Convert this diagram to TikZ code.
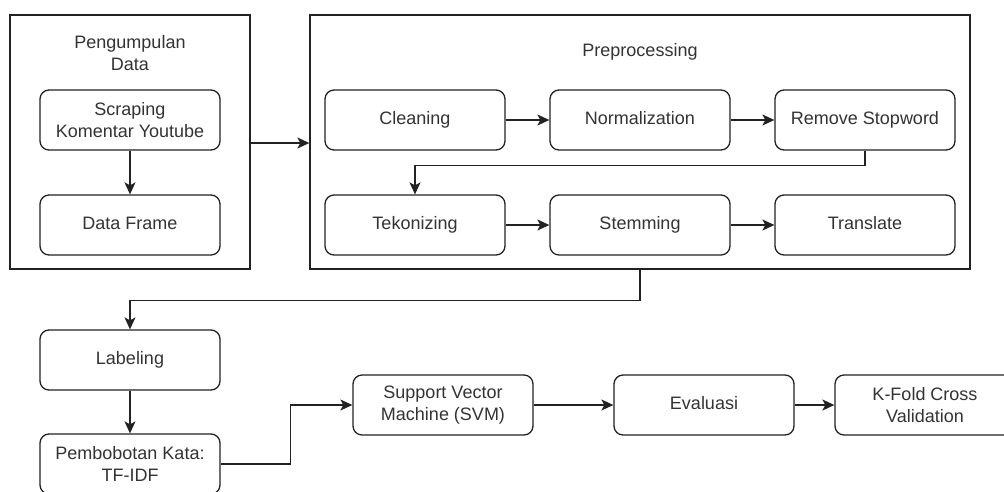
\documentclass[tikz,border=0pt]{standalone}
\usepackage{fontspec}
\setmainfont{Liberation Sans}
\usetikzlibrary{arrows.meta}
\definecolor{linec}{RGB}{34,34,34}
\definecolor{textc}{RGB}{51,51,51}
\begin{document}
\begin{tikzpicture}[x=1pt,y=-1pt,
  box/.style={draw=linec, line width=1.3pt, rounded corners=9pt, minimum width=180pt, minimum height=60pt, inner sep=0pt, align=center, text=textc, font=\fontsize{18}{22}\selectfont},
  single/.style={text height=13pt, text depth=4pt},
  frame/.style={draw=linec, line width=1.3pt, inner sep=0pt},
  title/.style={align=center, text=textc, font=\fontsize{18}{22}\selectfont},
  arr/.style={draw=linec, line width=1.3pt, -{Stealth[length=12pt,width=11pt,inset=3pt]}}
]
\useasboundingbox (0,0) rectangle (1004,491);
\clip (0,0) rectangle (1004,491);
\fill[white] (0,0) rectangle (1004,491);

% containers
\node[frame, minimum width=240pt, minimum height=254pt] (box1) at (130,142) {};
\node[title] (t1) at (130,53) {Pengumpulan\\Data};
\node[frame, minimum width=660pt, minimum height=254pt] (box2) at (640,142) {};
\node[title, single] (t2) at (640,52) {Preprocessing};

% data collection
\node[box] (scrap) at (130,120) {Scraping\\Komentar Youtube};
\node[box, single] (df) at (130,225) {Data Frame};

% preprocessing
\node[box, single] (clean) at (415,120) {Cleaning};
\node[box, single] (norm) at (640,120) {Normalization};
\node[box, single] (stop) at (865,120) {Remove Stopword};
\node[box, single] (tek) at (415,225) {Tekonizing};
\node[box, single] (stem) at (640,225) {Stemming};
\node[box, single] (trans) at (865,225) {Translate};

% lower part
\node[box, single] (label) at (130,360) {Labeling};
\node[box] (pemb) at (130,464) {Pembobotan Kata:\\TF-IDF};
\node[box] (svm) at (443,405) {Support Vector\\Machine (SVM)};
\node[box, single] (eval) at (704,405) {Evaluasi};
\node[box] (kfold) at (925,405) {K-Fold Cross\\Validation};

% connectors
\draw[arr] (scrap) -- (df);
\draw[arr] (box1.east |- 0,143) -- (box2.west |- 0,143);
\draw[arr] (clean) -- (norm);
\draw[arr] (norm) -- (stop);
\draw[arr] (stop.south) -- ++(0,15) -| (tek.north);
\draw[arr] (tek) -- (stem);
\draw[arr] (stem) -- (trans);
\draw[arr] (box2.south) -- ++(0,31) -| (label.north);
\draw[arr] (label) -- (pemb);
\draw[arr] (pemb.east) -- ++(70,0) |- (svm.west);
\draw[arr] (svm) -- (eval);
\draw[arr] (eval) -- (kfold);
\end{tikzpicture}
\end{document}
